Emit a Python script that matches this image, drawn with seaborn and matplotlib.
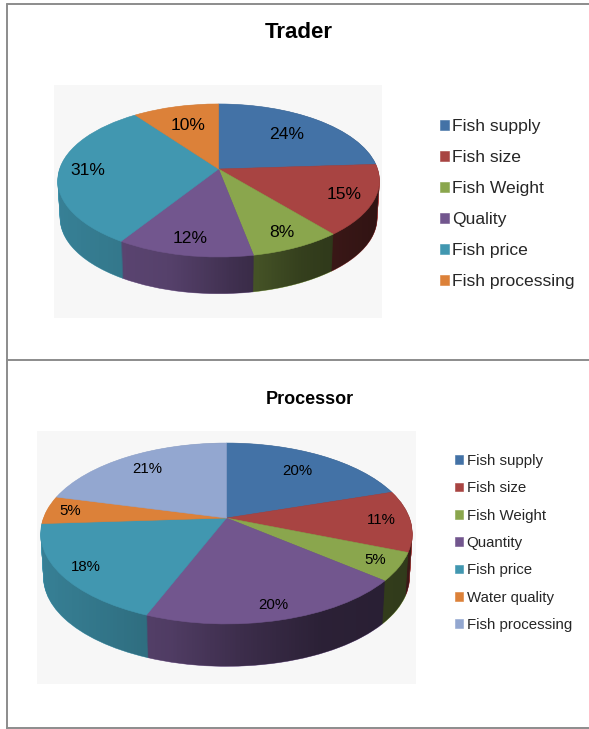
#!/usr/bin/env python3
# -*- coding: UTF-8 -*-

import numpy as np
import matplotlib
matplotlib.use('Agg')
import matplotlib.pyplot as plt
import seaborn as sns
from matplotlib.lines import Line2D
from matplotlib.path import Path
from matplotlib.transforms import Affine2D, Transform


WIDTH, HEIGHT = 589, 729

TRADER_LABELS = ['Fish supply', 'Fish size', 'Fish Weight', 'Quality', 'Fish price', 'Fish processing']
TRADER_VALUES = [24, 15, 8, 12, 31, 10]
TRADER_COLORS = ['#4372a6', '#a84442', '#8aa64d', '#72568e', '#4197b0', '#dc8139']

PROCESSOR_LABELS = ['Fish supply', 'Fish size', 'Fish Weight', 'Quantity', 'Fish price', 'Water quality', 'Fish processing']
PROCESSOR_VALUES = [20, 11, 5, 20, 18, 5, 21]
PROCESSOR_COLORS = ['#4372a6', '#a84442', '#8aa64d', '#72568e', '#4197b0', '#dc8139', '#93a7d0']

# how far out each percentage sits on its slice, 1 is the rim
TRADER_LABEL_R = [0.67, 0.82, 0.83, 0.83, 0.82, 0.67]
PROCESSOR_LABEL_R = [0.72, 0.84, 0.873, 0.876, 0.867, 0.87, 0.78]


class Tilt(Transform):
	'''
	Perspective view of the unit circle, output is in pixels around the pie centre
	'''

	input_dims = 2
	output_dims = 2
	is_separable = False
	has_inverse = False

	def __init__(self, rx, ry, k):
		super().__init__()
		self.rx, self.ry, self.k = rx, ry, k

	def transform_non_affine(self, values):
		values = np.asarray(values, dtype = float)
		w = 1+self.k*values[:, 1]
		return np.column_stack([self.rx*values[:, 0]/w, self.ry*values[:, 1]/w])


def draw_panel(fig, box, centre, shape, depth, values, colors, labels, labelR, shades, fontsize, legend):
	'''
	Parameters
	fig: figure
	box: tuple, (left, top, right, bottom) of the gray plot area in pixels
	centre: tuple, (x, y) of the pie centre in pixels
	shape: tuple, (rx, ry, k) of the Tilt transform
	depth: int, thickness of the pie in pixels
	values: list, percentages
	colors: list, slice colors
	labels: list, legend entries
	labelR: list, radial position of the percentages
	shades: tuple, (x positions from -1 to 1, darkness of the side)
	fontsize: float, size of percentages and legend
	legend: dict, position and spacing of the legend
	'''

	left, top, right, bottom = box
	ax = fig.add_axes([left/WIDTH, 1-bottom/HEIGHT, (right-left)/WIDTH, (bottom-top)/HEIGHT])
	palette = sns.color_palette(colors)
	tilt = Tilt(*shape)
	taper = 0.015

	# side of the pie: stacked pies from the bottom up
	for d in range(depth, 0, -1):
		wedges, _ = ax.pie(values, colors = palette, startangle = 90, counterclock = False,
						   wedgeprops = {'linewidth': 0.4, 'zorder': 1})
		scale = 1-taper*d/depth
		for wedge in wedges:
			wedge.set_edgecolor(wedge.get_facecolor())
			wedge.set_transform(tilt+Affine2D().scale(scale).translate(0, -d)+ax.transData)

	# top face
	wedges, _, autotexts = ax.pie(values, colors = palette, startangle = 90, counterclock = False,
								  autopct = '%.0f%%', pctdistance = 1,
								  wedgeprops = {'linewidth': 0.4, 'zorder': 2},
								  textprops = {'fontsize': fontsize, 'color': 'black', 'zorder': 3})
	for wedge in wedges:
		wedge.set_edgecolor(wedge.get_facecolor())
		wedge.set_transform(tilt+ax.transData)
	for text, r in zip(autotexts, labelR):
		x, y = text.get_position()
		text.set_position((x*r, y*r))
		text.set_transform(tilt+ax.transData)

	# darkening of the side towards the right
	rx, ry, k = shape
	xs = np.linspace(-1, 1, 300)
	image = np.zeros((1, xs.size, 4))
	image[0, :, 3] = np.interp(xs, *shades)
	span = rx*1.03
	img = ax.imshow(image, extent = (-span, span, -ry*2-depth, ry*2), aspect = 'auto', zorder = 1.5)

	tLeft, tRight = np.pi+np.arcsin(k), 2*np.pi-np.arcsin(k)
	lowerT = np.linspace(tLeft, tRight, 200)
	upperT = np.linspace(tRight, tLeft+2*np.pi, 200)
	lower = tilt.transform(np.column_stack([np.cos(lowerT), np.sin(lowerT)]))*(1-taper)-[0, depth]
	upper = tilt.transform(np.column_stack([np.cos(upperT), np.sin(upperT)]))
	img.set_clip_path(Path(np.vstack([lower, upper, lower[:1]])), transform = ax.transData)

	ax.set_aspect('auto')
	ax.set_xlim(left-centre[0], right-centre[0])
	ax.set_ylim(centre[1]-bottom, centre[1]-top)
	ax.set_frame_on(True)
	ax.set_facecolor('#f7f7f7')
	for spine in ax.spines.values():
		spine.set_visible(False)
	ax.set_xticks([])
	ax.set_yticks([])

	fig.legend(handles = wedges, labels = labels, loc = 'upper left', frameon = False, fontsize = fontsize,
			   bbox_to_anchor = (legend['x']/WIDTH, 1-legend['y']/HEIGHT), borderpad = 0, borderaxespad = 0,
			   handlelength = legend['handle'], handleheight = legend['handle'],
			   handletextpad = legend['pad'], labelspacing = legend['spacing'])


sns.set_theme(style = 'white')
plt.rcParams['font.family'] = ['Liberation Sans', 'DejaVu Sans']

fig = plt.figure(figsize = (WIDTH/100, HEIGHT/100), dpi = 100, facecolor = 'white')

draw_panel(fig, (54, 85, 382, 318), (218.6, 169), (159, 74.8, 0.15), 38,
		   TRADER_VALUES, TRADER_COLORS, TRADER_LABELS, TRADER_LABEL_R,
		   ([-1, -0.3, 0.1, 0.5, 1], [0.15, 0.25, 0.45, 0.62, 0.72]), 12.6,
		   {'x': 440, 'y': 119.5, 'handle': 0.51, 'pad': 0.2, 'spacing': 0.91})
draw_panel(fig, (37, 431, 416, 684), (226.5, 518), (183, 87.8, 0.171), 44,
		   PROCESSOR_VALUES, PROCESSOR_COLORS, PROCESSOR_LABELS, PROCESSOR_LABEL_R,
		   ([-1, -0.3, 0.1, 0.5, 1], [0.15, 0.3, 0.48, 0.62, 0.65]), 10.8,
		   {'x': 455, 'y': 454, 'handle': 0.51, 'pad': 0.27, 'spacing': 0.89})

fig.text(298.6/WIDTH, 1-33/HEIGHT, 'Trader', fontsize = 16, fontweight = 'bold', ha = 'center', va = 'center', color = 'black')
fig.text(309.5/WIDTH, 1-400/HEIGHT, 'Processor', fontsize = 13, fontweight = 'bold', ha = 'center', va = 'center', color = 'black')

# page frame around the two charts
for xs, ys in [((6.5, 6.5), (3.5, 729)), ((6.5, 589), (3.5, 3.5)), ((6.5, 589), (360, 360)), ((6.5, 589), (728, 728))]:
	fig.add_artist(Line2D([x/WIDTH for x in xs], [1-y/HEIGHT for y in ys], color = '#8c8c8c', linewidth = 1.4))

fig.savefig('out.png', dpi = 100)
